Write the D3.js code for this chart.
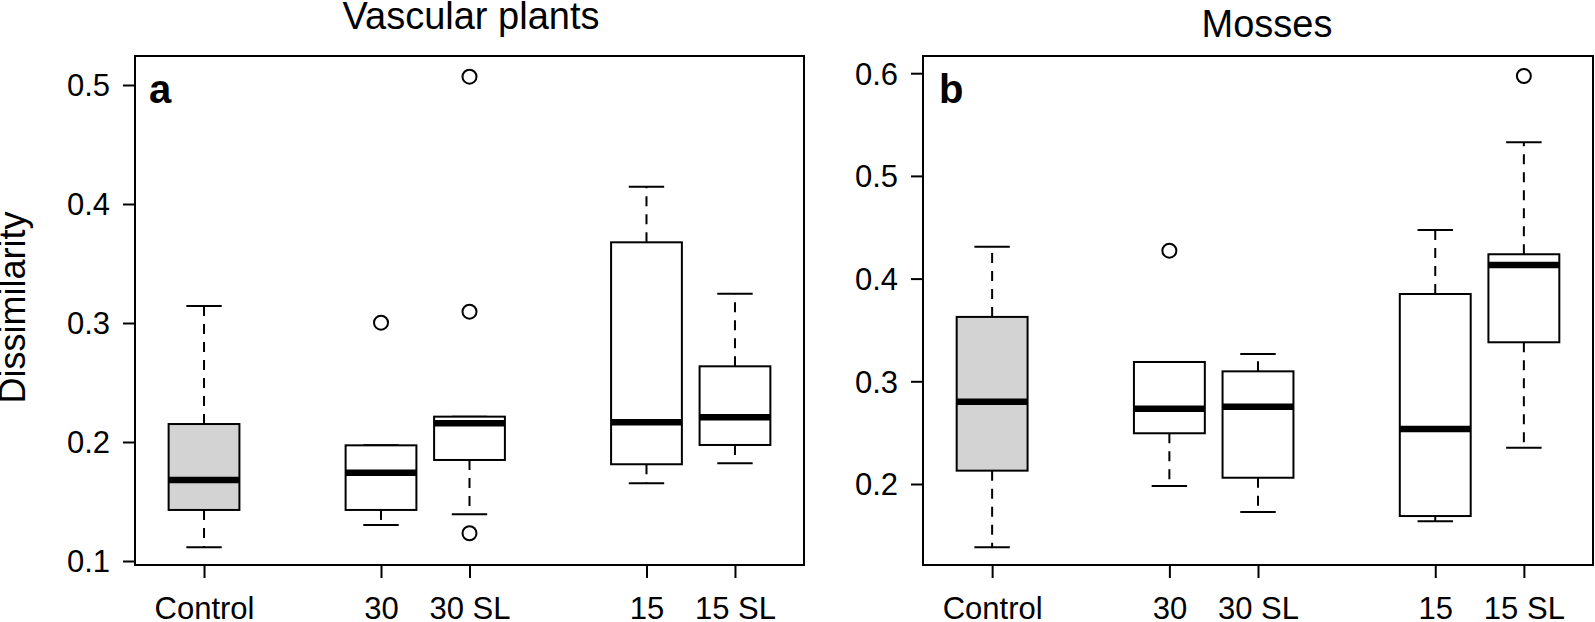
<!DOCTYPE html>
<html>
<head>
<meta charset="utf-8">
<script src="https://cdn.jsdelivr.net/npm/d3@7"></script>
<style>
  body { margin: 0; background: #fff; }
  svg { display: block; }
  text { font-family: "Liberation Sans", Arial, sans-serif; fill: #000; }
</style>
</head>
<body>
<svg id="chart" width="1595" height="622"></svg>
<script>
// ---------- data ----------
const categories = ["Control", "30", "30 SL", "15", "15 SL"];
const positions = [1, 3, 4, 6, 7];
const fills = ["#d3d3d3", "#ffffff", "#ffffff", "#ffffff", "#ffffff"];

// Vascular plants (panel a)
const vascLow  = [0.1115, 0.1303, 0.1392, 0.1653, 0.1821];
const vascQ1   = [0.1429, 0.1429, 0.1849, 0.1813, 0.1975];
const vascMed  = [0.1680, 0.1742, 0.2157, 0.2166, 0.2208];
const vascQ3   = [0.2151, 0.1972, 0.2213, 0.3678, 0.2636];
const vascHigh = [0.3143, 0.1972, 0.2213, 0.4145, 0.3246];
const vascOut  = [[], [0.3003], [0.507, 0.3095, 0.1233], [], []];
const vascTicks = [0.1, 0.2, 0.3, 0.4, 0.5];

// Mosses (panel b)
const mossLow  = [0.1384, 0.1981, 0.1727, 0.1637, 0.2354];
const mossQ1   = [0.2130, 0.2494, 0.2061, 0.1688, 0.3380];
const mossMed  = [0.2801, 0.2733, 0.2753, 0.2536, 0.4132];
const mossQ3   = [0.3627, 0.3188, 0.3097, 0.3850, 0.4237];
const mossHigh = [0.4311, 0.3188, 0.3266, 0.4473, 0.5327];
const mossOut  = [[], [0.4272], [], [], [0.5973]];
const mossTicks = [0.2, 0.3, 0.4, 0.5, 0.6];

const svg = d3.select("#chart");

function panel(opts) {
  const { left, right, top, bottom, yDomain, low, q1, med, q3, high, out, ticks, title, titleX, titleY, letter, letterX } = opts;
  const x = d3.scaleLinear().domain([0.22, 7.78]).range([left, right]);
  const y = d3.scaleLinear().domain(yDomain).range([bottom, top]);
  const g = svg.append("g");
  const hw = 0.4;

  positions.forEach((p, i) => {
    const cx = x(p);
    const x0 = x(p - hw), x1 = x(p + hw);
    const s0 = x(p - hw / 2), s1 = x(p + hw / 2);
    g.append("line").attr("x1", cx).attr("x2", cx).attr("y1", y(q3[i])).attr("y2", y(high[i]))
      .attr("stroke", "#000").attr("stroke-width", 2).attr("stroke-dasharray", "10,8");
    g.append("line").attr("x1", cx).attr("x2", cx).attr("y1", y(q1[i])).attr("y2", y(low[i]))
      .attr("stroke", "#000").attr("stroke-width", 2).attr("stroke-dasharray", "10,8");
    g.append("line").attr("x1", s0).attr("x2", s1).attr("y1", y(high[i])).attr("y2", y(high[i]))
      .attr("stroke", "#000").attr("stroke-width", 2);
    g.append("line").attr("x1", s0).attr("x2", s1).attr("y1", y(low[i])).attr("y2", y(low[i]))
      .attr("stroke", "#000").attr("stroke-width", 2);
    g.append("rect").attr("x", x0).attr("y", y(q3[i])).attr("width", x1 - x0).attr("height", y(q1[i]) - y(q3[i]))
      .attr("fill", fills[i]).attr("stroke", "#000").attr("stroke-width", 2);
    g.append("line").attr("x1", x0).attr("x2", x1).attr("y1", y(med[i])).attr("y2", y(med[i]))
      .attr("stroke", "#000").attr("stroke-width", 6.5);
    out[i].forEach(v => {
      g.append("circle").attr("cx", cx).attr("cy", y(v)).attr("r", 7)
        .attr("fill", "none").attr("stroke", "#000").attr("stroke-width", 2);
    });
  });

  g.append("rect").attr("x", left).attr("y", top).attr("width", right - left).attr("height", bottom - top)
    .attr("fill", "none").attr("stroke", "#000").attr("stroke-width", 2);

  const ya = g.append("g").attr("transform", `translate(${left},0)`)
    .call(d3.axisLeft(y).tickValues(ticks).tickFormat(d3.format(".1f")).tickSize(12).tickPadding(13));
  ya.select(".domain").remove();
  ya.selectAll("line").attr("stroke", "#000").attr("stroke-width", 2);
  ya.selectAll("text").attr("font-size", 31).attr("dy", "0.35em")
    .style("font-family", '"Liberation Sans", Arial, sans-serif').attr("fill", "#000");

  const xa = g.append("g").attr("transform", `translate(0,${bottom})`)
    .call(d3.axisBottom(x).tickValues(positions).tickFormat((d, i) => categories[i]).tickSize(13).tickPadding(19));
  xa.select(".domain").remove();
  xa.selectAll("line").attr("stroke", "#000").attr("stroke-width", 2);
  xa.selectAll("text").attr("font-size", 31)
    .style("font-family", '"Liberation Sans", Arial, sans-serif').attr("fill", "#000");

  svg.append("text").attr("x", titleX).attr("y", titleY).attr("text-anchor", "middle")
    .attr("font-size", 38).text(title);
  svg.append("text").attr("x", letterX).attr("y", 103).attr("font-size", 40).attr("font-weight", "bold").text(letter);
}

panel({ left: 135, right: 804, top: 56, bottom: 565, yDomain: [0.09664, 0.52437],
  low: vascLow, q1: vascQ1, med: vascMed, q3: vascQ3, high: vascHigh, out: vascOut, ticks: vascTicks,
  title: "Vascular plants", titleX: 471, titleY: 29, letter: "a", letterX: 149 });

panel({ left: 923, right: 1593, top: 56, bottom: 565, yDomain: [0.12113, 0.61675],
  low: mossLow, q1: mossQ1, med: mossMed, q3: mossQ3, high: mossHigh, out: mossOut, ticks: mossTicks,
  title: "Mosses", titleX: 1267, titleY: 37, letter: "b", letterX: 939 });

svg.append("text").attr("transform", "translate(25,307.5) rotate(-90)").attr("text-anchor", "middle")
  .attr("font-size", 36).text("Dissimilarity");
</script>
</body>
</html>
